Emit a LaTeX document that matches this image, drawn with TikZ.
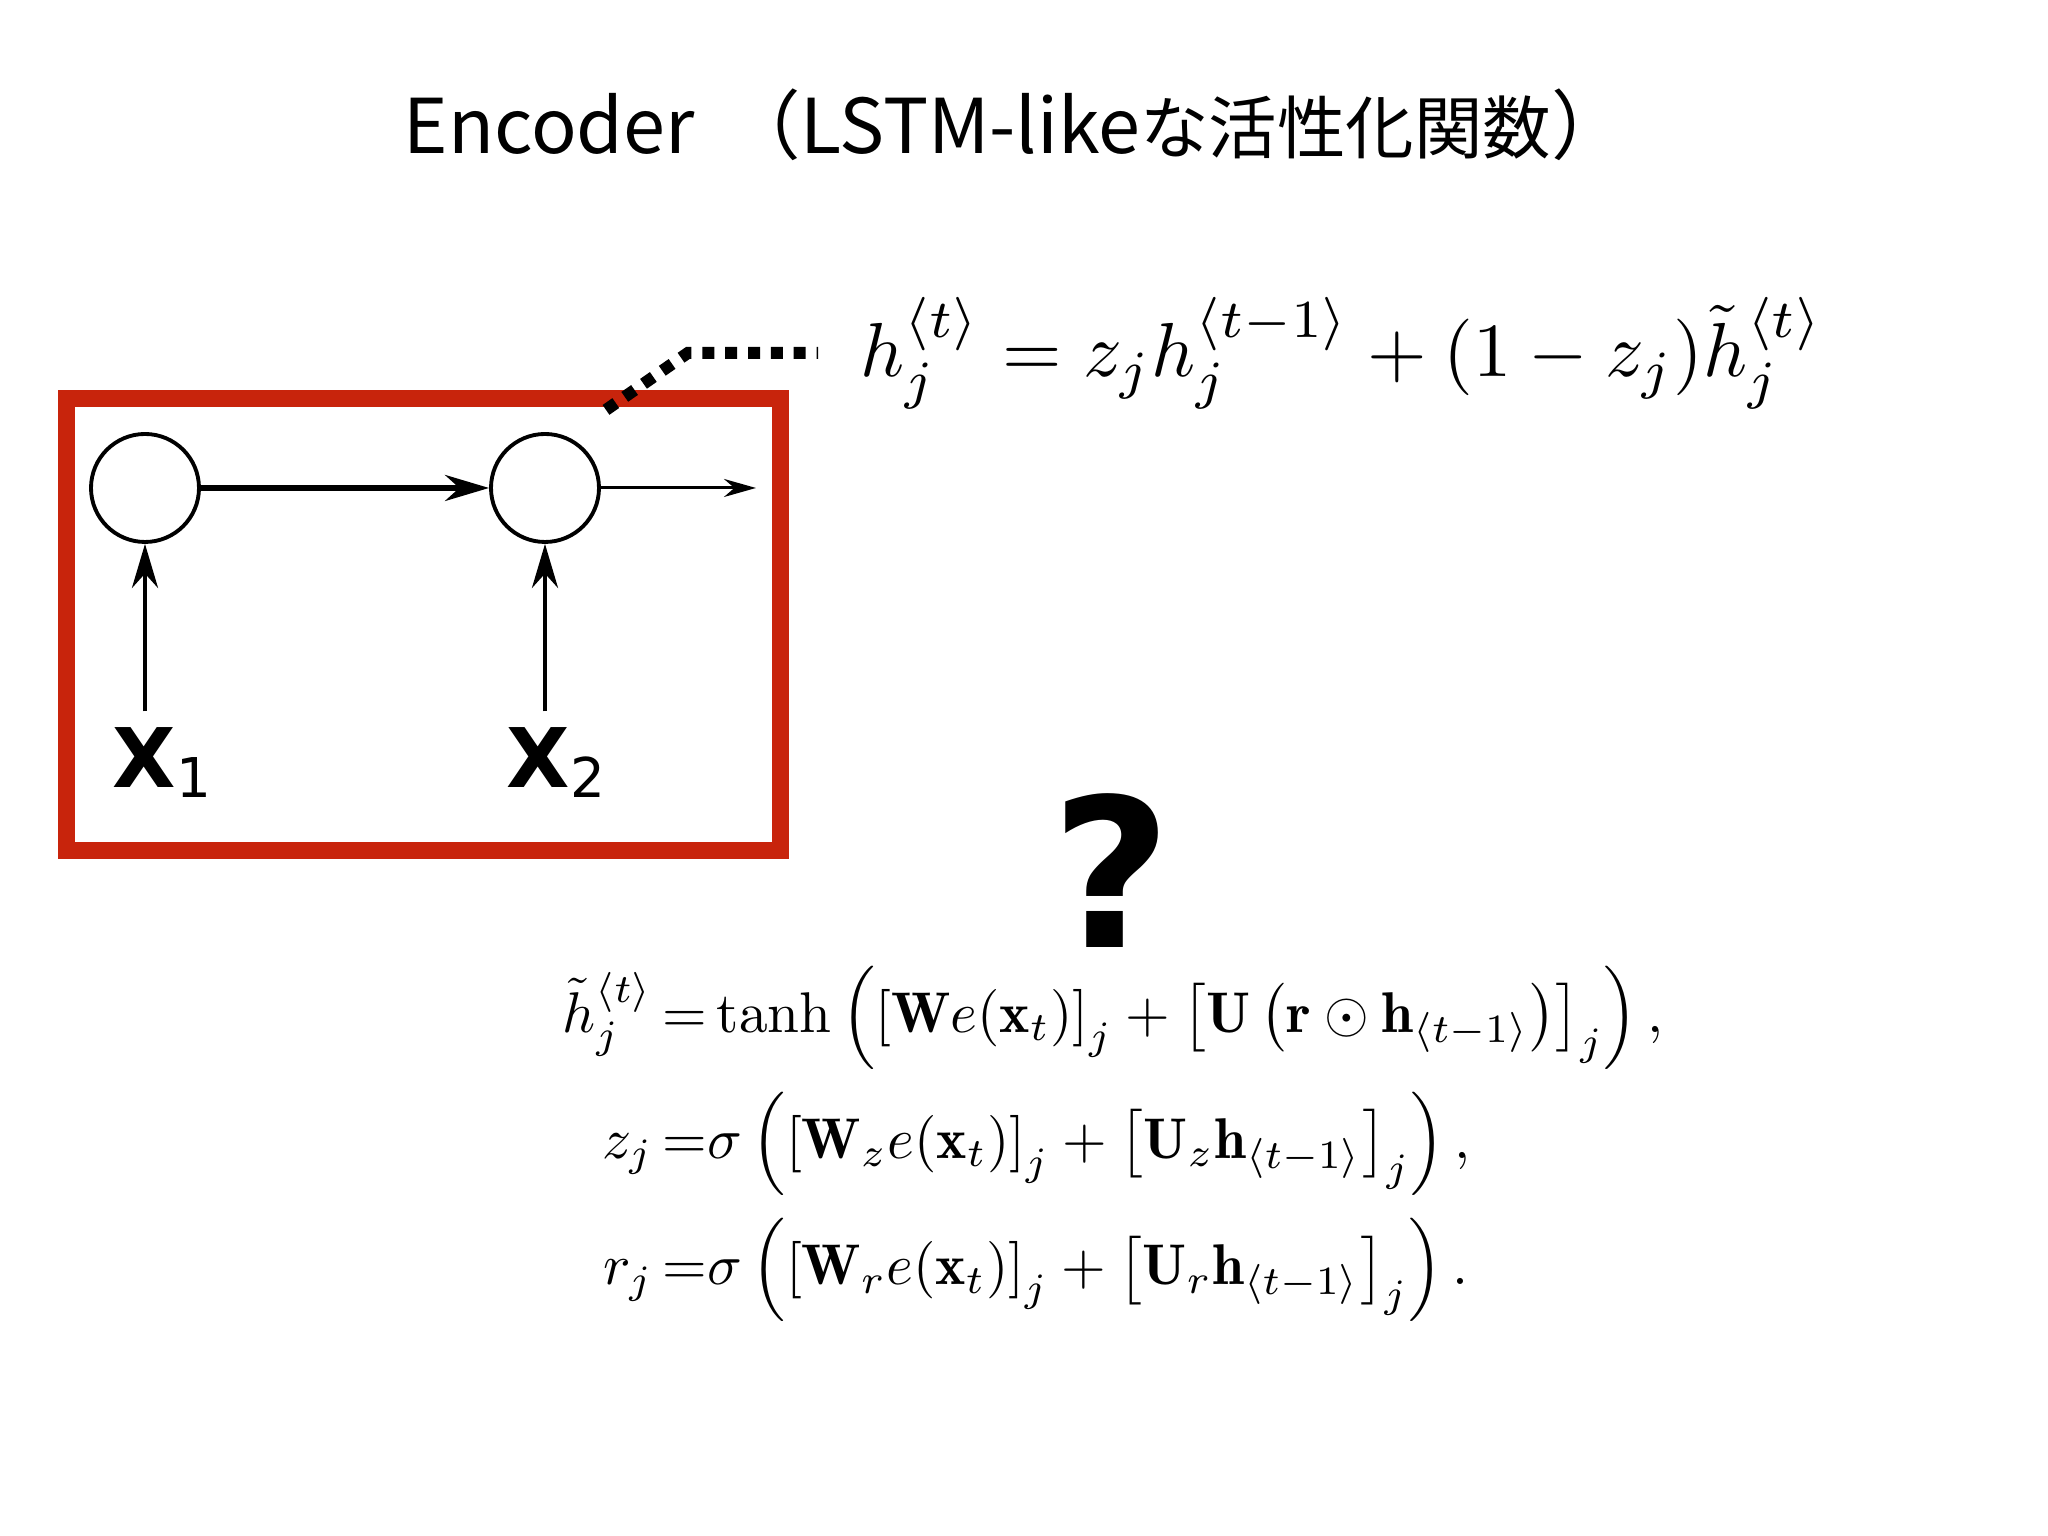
\documentclass[tikz,border=0pt]{standalone}
\usepackage{amsmath}
\usepackage{graphicx}
\usepackage{fontspec}
\newfontfamily\jpfont{Noto Sans CJK JP}
\newfontfamily\labelfont{DejaVu Sans}
\usetikzlibrary{arrows.meta,positioning}
\definecolor{boxred}{RGB}{200,36,12}
\newcommand{\inputx}[1]{{\bfseries X}\raisebox{-0.1cm}{\fontsize{15.6}{16}\selectfont #1}}
\begin{document}
\begin{tikzpicture}[>={Stealth[length=0.44cm,width=0.26cm]},x=1cm,y=1cm,
	unit/.style={draw,circle,line width=1.1pt,minimum size=1.08cm,inner sep=0pt},
	inlabel/.style={inner sep=0pt,anchor=base west,font=\labelfont\fontsize{23.4}{24}\selectfont},
	dotlink/.style={line width=3.4pt,dash pattern=on 3.4pt off 3.1pt}]
			\def\boxw{0.17cm} % do day vien do
			\useasboundingbox[fill=white] (0,0) rectangle (20.48,15.36);
			%	\draw[color=gray,dash pattern=on 1pt off 1pt,step=1.0cm] (0,0) grid (20.48,15.36);
			\node[anchor=base west,inner sep=0pt,font=\jpfont\fontsize{21.5}{24}\selectfont] (title) at (4.03,13.82) {Encoder　\kern-0.6em（LSTM-like{\fontsize{19.5}{24}\selectfont な活性化関数}）};
			\draw[boxred,line width=\boxw] (0.66,6.85) rectangle (7.80,11.37);
			\node[unit] (c1) at (1.45,10.48) {};
			\node[unit] (c2) at (5.45,10.48) {};
			\coordinate (out) at (7.56,10.48);
			\node[inlabel] (x1) at (1.12,7.48) {\inputx{1}};
			\node[inlabel] (x2) at (5.06,7.48) {\inputx{2}};
			\draw[->,line width=1.5pt] (c1) -- (c2);
			\draw[->,line width=0.85pt,>={Stealth[length=0.32cm,width=0.18cm]}] (c2) -- (out);
			\draw[->,line width=1.3pt,shorten <=0.16cm] (x1.north -| c1) -- (c1);
			\draw[->,line width=1.3pt,shorten <=0.16cm] (x2.north -| c2) -- (c2);
			\node[anchor=base west,inner sep=0pt] (eqh) at (8.60,11.59) {\resizebox{9.63cm}{!}{$h_j^{\langle t\rangle} = z_j h_j^{\langle t-1\rangle} + (1 - z_j)\tilde{h}_j^{\langle t\rangle}$}};
			\coordinate (bend) at ([xshift=-1.72cm]eqh.west);
			\coordinate (tip) at ([shift={(-0.82,-0.57)}]bend);
			\draw[dotlink,shorten >=0.42cm] (tip) -- (bend) -- (eqh.west);
			\node[anchor=base,inner sep=0pt,font=\labelfont\bfseries\fontsize{59}{60}\selectfont] (qm) at (11.12,5.88) {?};
			\node[anchor=west,inner sep=0pt] (gates) at (5.62,3.92) {\resizebox{11.01cm}{!}{$\begin{aligned}
				\tilde{h}_j^{\langle t\rangle} &\,{=}\tanh\left(\left[\mathbf{W}e(\mathbf{x}_t)\right]_j+\left[\mathbf{U}\left(\mathbf{r}\odot\mathbf{h}_{\langle t-1\rangle}\right)\right]_j\right),\\
				z_j &\,{=}\sigma\left(\left[\mathbf{W}_z e(\mathbf{x}_t)\right]_j+\left[\mathbf{U}_z\mathbf{h}_{\langle t-1\rangle}\right]_j\right),\\
				r_j &\,{=}\sigma\left(\left[\mathbf{W}_r e(\mathbf{x}_t)\right]_j+\left[\mathbf{U}_r\mathbf{h}_{\langle t-1\rangle}\right]_j\right).
			\end{aligned}$}};
\end{tikzpicture}
\end{document}
